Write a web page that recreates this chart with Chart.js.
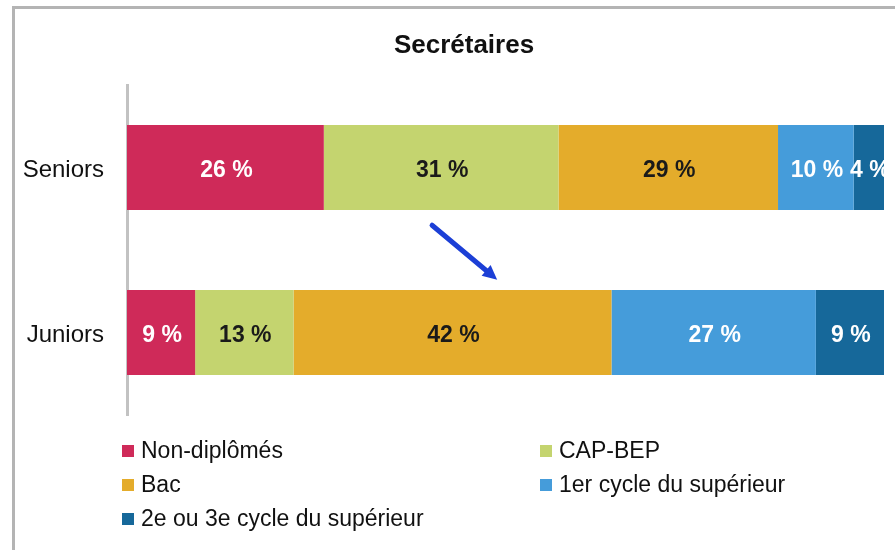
<!DOCTYPE html>
<html>
<head>
<meta charset="utf-8">
<script src="https://cdn.jsdelivr.net/npm/chart.js@4.4.1/dist/chart.umd.min.js"></script>
<style>
  html, body { margin: 0; padding: 0; background: #fff; overflow: hidden; }
  #wrap { position: relative; width: 895px; height: 550px; }
  #frame {
    position: absolute; left: 12px; top: 6px; width: 2000px; height: 2000px;
    border-left: 3px solid #b4b4b4; border-top: 3px solid #b4b4b4;
  }
  #chart { position: absolute; left: 0; top: 0; }
  .legend-item {
    position: absolute; font: 23px "Liberation Sans", Arial, sans-serif; color: #111;
    white-space: nowrap; line-height: 24px;
  }
  .legend-item span {
    display: inline-block; width: 12px; height: 12px; margin-right: 7px; vertical-align: 1px;
  }
</style>
</head>
<body>
<div id="wrap">
  <div id="frame"></div>
  <canvas id="chart" width="895" height="550"></canvas>
  <div id="legend"></div>
</div>
<script>
const chartTitle = "Secrétaires";
const categories = ["Seniors", "Juniors"];
const seriesNames = ["Non-diplômés", "CAP-BEP", "Bac", "1er cycle du supérieur", "2e ou 3e cycle du supérieur"];
const nonDiplomes = [26, 9];
const capBep = [31, 13];
const bac = [29, 42];
const premierCycle = [10, 27];
const deuxTroisCycle = [4, 9];
const seriesValues = [nonDiplomes, capBep, bac, premierCycle, deuxTroisCycle];
const seriesColors = ["#cf2a59", "#c4d46f", "#e4ac2b", "#459cda", "#16689a"];
const labelColors = ["#ffffff", "#1a1a1a", "#1a1a1a", "#ffffff", "#ffffff"];
// arrow annotation, in data units (x = percent, y = category index)
const arrowFrom = { x: 40.3, y: 0.35 };
const arrowTo = { x: 48.9, y: 0.68 };

const FONT = "'Liberation Sans', Arial, sans-serif";

const titleBox = {
    id: "titleBox",
    afterDraw(chart) {
        const { ctx } = chart;
        ctx.save();
        ctx.font = "bold 26px " + FONT;
        ctx.fillStyle = "#111";
        ctx.textAlign = "center";
        ctx.textBaseline = "middle";
        ctx.fillText(chartTitle, 464, 46);
        ctx.restore();
    },
};

const segmentLabels = {
    id: "segmentLabels",
    afterDatasetsDraw(chart) {
        const { ctx, chartArea } = chart;
        ctx.save();
        ctx.beginPath();
        ctx.rect(chartArea.left, chartArea.top, chartArea.right - chartArea.left, chartArea.bottom - chartArea.top);
        ctx.clip();
        ctx.font = "bold 23px " + FONT;
        ctx.textAlign = "center";
        ctx.textBaseline = "middle";
        chart.data.datasets.forEach((ds, i) => {
            const meta = chart.getDatasetMeta(i);
            meta.data.forEach((bar, j) => {
                const cx = (bar.x + bar.base) / 2;
                ctx.fillStyle = labelColors[i];
                ctx.fillText(ds.data[j] + " %", cx + 1, bar.y + 3);
            });
        });
        ctx.restore();
    },
};

const trendArrow = {
    id: "trendArrow",
    afterDraw(chart) {
        const { ctx } = chart;
        const xs = chart.scales.x;
        const ys = chart.scales.y;
        const yAt = (v) => ys.getPixelForValue(0) + (ys.getPixelForValue(1) - ys.getPixelForValue(0)) * v;
        const x1 = xs.getPixelForValue(arrowFrom.x), y1 = yAt(arrowFrom.y);
        const x2 = xs.getPixelForValue(arrowTo.x), y2 = yAt(arrowTo.y);
        const ang = Math.atan2(y2 - y1, x2 - x1);
        const head = 16;
        ctx.save();
        ctx.strokeStyle = "#1c3fd6";
        ctx.fillStyle = "#1c3fd6";
        ctx.lineWidth = 5;
        ctx.lineCap = "round";
        ctx.beginPath();
        ctx.moveTo(x1, y1);
        ctx.lineTo(x2 - Math.cos(ang) * head * 0.7, y2 - Math.sin(ang) * head * 0.7);
        ctx.stroke();
        ctx.beginPath();
        ctx.moveTo(x2, y2);
        ctx.lineTo(x2 - head * Math.cos(ang - 0.45), y2 - head * Math.sin(ang - 0.45));
        ctx.lineTo(x2 - head * Math.cos(ang + 0.45), y2 - head * Math.sin(ang + 0.45));
        ctx.closePath();
        ctx.fill();
        ctx.restore();
    },
};

new Chart(document.getElementById("chart"), {
    type: "bar",
    data: {
        labels: categories,
        datasets: seriesNames.map((name, i) => ({
            label: name,
            data: seriesValues[i],
            backgroundColor: seriesColors[i],
            borderWidth: 0,
            categoryPercentage: 1,
            barPercentage: 0.515,
        })),
    },
    options: {
        indexAxis: "y",
        responsive: false,
        animation: false,
        layout: { padding: { left: 0, right: 11, top: 85, bottom: 135 } },
        plugins: {
            legend: { display: false },
            tooltip: { enabled: false },
            title: { display: false },
        },
        scales: {
            x: { stacked: true, display: false, min: 0, max: 100 },
            y: {
                stacked: true,
                grid: { display: false, drawTicks: false },
                border: { display: true, color: "#c2c2c2", width: 3 },
                ticks: {
                    color: "#111",
                    padding: 23,
                    labelOffset: 3,
                    font: { family: FONT, size: 24 },
                },
                afterFit(scale) { scale.width = 127; },
            },
        },
    },
    plugins: [segmentLabels, trendArrow, titleBox],
});

// two-column legend under the plot
const legendPos = [[122, 438], [540, 438], [122, 472], [540, 472], [122, 506]];
const legendEl = document.getElementById("legend");
seriesNames.forEach((name, i) => {
    const item = document.createElement("div");
    item.className = "legend-item";
    item.style.left = legendPos[i][0] + "px";
    item.style.top = legendPos[i][1] + "px";
    const sw = document.createElement("span");
    sw.style.background = seriesColors[i];
    item.appendChild(sw);
    item.appendChild(document.createTextNode(name));
    legendEl.appendChild(item);
});
</script>
</body>
</html>
